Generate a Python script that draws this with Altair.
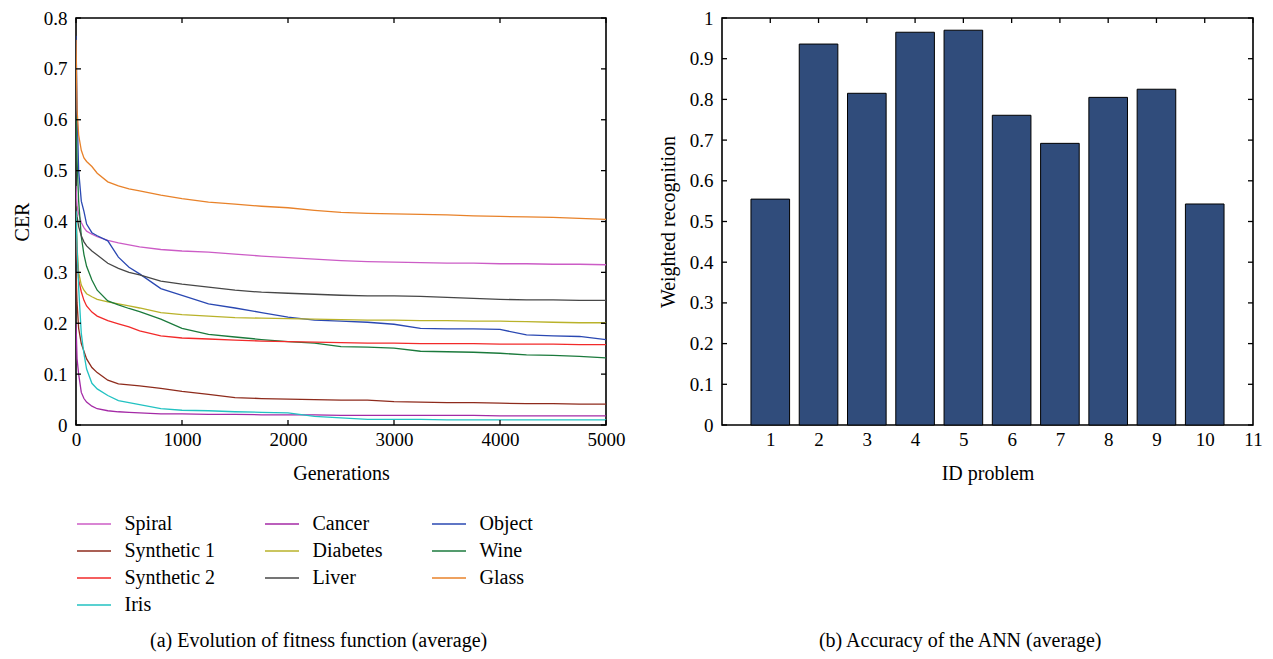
import altair as alt
import pandas as pd

FONT = "Liberation Serif"
FS_LAB = 19
FS_TXT = 20

# ---------------- data: left panel (CER vs generations) ----------------
gens = [0, 10, 25, 50, 75, 100, 150, 200, 300, 400, 500, 600, 800, 1000, 1250,
        1500, 1750, 2000, 2250, 2500, 2750, 3000, 3250, 3500, 3750, 4000, 4250,
        4500, 4750, 5000]

spiral = [0.47, 0.43, 0.415, 0.398, 0.388, 0.381, 0.375, 0.370, 0.363, 0.358, 0.354,
          0.350, 0.345, 0.342, 0.340, 0.336, 0.332, 0.329, 0.326, 0.323, 0.321, 0.320,
          0.319, 0.318, 0.318, 0.317, 0.317, 0.316, 0.316, 0.315]
cancer = [0.20, 0.13, 0.10, 0.064, 0.052, 0.045, 0.037, 0.032, 0.028, 0.026, 0.025,
          0.024, 0.022, 0.022, 0.021, 0.021, 0.020, 0.020, 0.020, 0.019, 0.019, 0.019,
          0.019, 0.019, 0.019, 0.018, 0.018, 0.018, 0.018, 0.018]
obj = [0.765, 0.62, 0.50, 0.44, 0.42, 0.395, 0.378, 0.372, 0.362, 0.33, 0.31,
       0.297, 0.268, 0.255, 0.238, 0.230, 0.221, 0.212, 0.206, 0.204, 0.202, 0.198,
       0.190, 0.189, 0.189, 0.188, 0.177, 0.175, 0.174, 0.168]
synthetic1 = [0.30, 0.24, 0.19, 0.16, 0.145, 0.13, 0.113, 0.103, 0.088, 0.081, 0.079,
              0.077, 0.072, 0.066, 0.060, 0.054, 0.052, 0.051, 0.050, 0.049, 0.049, 0.046,
              0.045, 0.044, 0.044, 0.043, 0.042, 0.042, 0.041, 0.041]
diabetes = [0.43, 0.35, 0.30, 0.275, 0.265, 0.258, 0.252, 0.247, 0.242, 0.238, 0.234,
            0.230, 0.221, 0.217, 0.214, 0.211, 0.210, 0.209, 0.208, 0.207, 0.206, 0.206,
            0.205, 0.205, 0.204, 0.204, 0.203, 0.202, 0.201, 0.201]
wine = [0.606, 0.52, 0.44, 0.37, 0.335, 0.312, 0.285, 0.265, 0.244, 0.236, 0.229,
        0.223, 0.208, 0.190, 0.178, 0.173, 0.168, 0.164, 0.161, 0.154, 0.153, 0.151,
        0.145, 0.144, 0.143, 0.141, 0.138, 0.137, 0.135, 0.132]
synthetic2 = [0.40, 0.33, 0.285, 0.262, 0.245, 0.234, 0.222, 0.214, 0.205, 0.199, 0.193,
              0.185, 0.175, 0.171, 0.169, 0.167, 0.165, 0.164, 0.163, 0.162, 0.161, 0.161,
              0.160, 0.160, 0.160, 0.159, 0.159, 0.159, 0.158, 0.158]
liver = [0.43, 0.41, 0.39, 0.372, 0.36, 0.352, 0.342, 0.334, 0.318, 0.308, 0.300,
         0.295, 0.283, 0.277, 0.271, 0.265, 0.261, 0.259, 0.257, 0.255, 0.254, 0.254,
         0.253, 0.251, 0.249, 0.247, 0.246, 0.246, 0.245, 0.245]
glass = [0.757, 0.62, 0.57, 0.54, 0.525, 0.518, 0.508, 0.495, 0.478, 0.470, 0.464,
         0.460, 0.452, 0.445, 0.438, 0.434, 0.430, 0.427, 0.422, 0.418, 0.416, 0.415,
         0.414, 0.413, 0.411, 0.410, 0.409, 0.408, 0.406, 0.404]
iris = [0.42, 0.35, 0.27, 0.18, 0.14, 0.11, 0.082, 0.071, 0.058, 0.048, 0.044,
        0.040, 0.032, 0.029, 0.028, 0.026, 0.025, 0.024, 0.017, 0.014, 0.011, 0.011,
        0.011, 0.010, 0.010, 0.010, 0.010, 0.010, 0.010, 0.010]

# legend order, row by row in a 3-column legend
names = ["Spiral", "Cancer", "Object",
         "Synthetic 1", "Diabetes", "Wine",
         "Synthetic 2", "Liver", "Glass",
         "Iris"]
colors = ["#cc5cc6", "#a42aa6", "#2a48b2",
          "#8e2b1c", "#b9b22a", "#1b7a3c",
          "#f22a2a", "#474747", "#e8822a",
          "#22c2c2"]
series_values = [spiral, cancer, obj, synthetic1, diabetes, wine,
                 synthetic2, liver, glass, iris]

rows = []
for name, vals in zip(names, series_values):
    for g, v in zip(gens, vals):
        rows.append({"Generations": g, "CER": v, "Series": name})
df = pd.DataFrame(rows)

x_ticks_a = [0, 1000, 2000, 3000, 4000, 5000]
y_ticks_a = [0, 0.1, 0.2, 0.3, 0.4, 0.5, 0.6, 0.7, 0.8]

# ---------------- data: right panel (accuracy) ----------------
problem_ids = [1, 2, 3, 4, 5, 6, 7, 8, 9, 10]
accuracy = [0.555, 0.936, 0.815, 0.965, 0.970, 0.761, 0.692, 0.805, 0.825, 0.543]
bar_df = pd.DataFrame({"id": problem_ids, "acc": accuracy})
x_ticks_b = [1, 2, 3, 4, 5, 6, 7, 8, 9, 10, 11]
y_ticks_b = [0, 0.1, 0.2, 0.3, 0.4, 0.5, 0.6, 0.7, 0.8, 0.9, 1.0]

LABEL_EXPR = "format(datum.value, '.1~f')"
TICK = 5
tick_style = dict(color="black", strokeWidth=1.3)

# ---------------- left panel ----------------
WA, HA = 530, 407
xs_a = alt.Scale(domain=[0, 5000], nice=False)
ys_a = alt.Scale(domain=[0, 0.8], nice=False)
x_enc_a = alt.X("Generations:Q", scale=xs_a,
                axis=alt.Axis(values=x_ticks_a, format="d", title="Generations"))
y_enc_a = alt.Y("CER:Q", scale=ys_a,
                axis=alt.Axis(values=y_ticks_a, labelExpr=LABEL_EXPR, title="CER"))

lines = alt.Chart(df).mark_line(strokeWidth=1.3, clip=True).encode(
    x=x_enc_a,
    y=y_enc_a,
    color=alt.Color("Series:N", sort=names,
                    scale=alt.Scale(domain=names, range=colors),
                    legend=alt.Legend(title=None, orient="none", legendX=8, legendY=496,
                                      direction="horizontal",
                                      columns=3, symbolType="M-2,0L2,0", symbolSize=289,
                                      symbolStrokeWidth=1.6, labelFont=FONT,
                                      labelFontSize=FS_TXT, labelColor="black",
                                      labelOffset=20.5, rowPadding=7, columnPadding=45)),
)

ya_df = pd.DataFrame({"CER": y_ticks_a})
xa_df = pd.DataFrame({"Generations": x_ticks_a})
ta_left = alt.Chart(ya_df).mark_rule(**tick_style).encode(
    y=y_enc_a, x=alt.value(0), x2=alt.value(TICK))
ta_right = alt.Chart(ya_df).mark_rule(**tick_style).encode(
    y=y_enc_a, x=alt.value(WA - TICK), x2=alt.value(WA))
ta_top = alt.Chart(xa_df).mark_rule(**tick_style).encode(
    x=x_enc_a, y=alt.value(0), y2=alt.value(TICK))
ta_bot = alt.Chart(xa_df).mark_rule(**tick_style).encode(
    x=x_enc_a, y=alt.value(HA - TICK), y2=alt.value(HA))

left = alt.layer(lines, ta_left, ta_right, ta_top, ta_bot).properties(
    width=WA, height=HA,
    title=alt.TitleParams("(a)  Evolution of fitness function (average)", orient="bottom",
                          anchor="middle", frame="bounds", font=FONT, fontSize=FS_TXT,
                          fontWeight="normal", color="black", offset=148),
)

# ---------------- right panel ----------------
WB, HB = 531, 407
xs_b = alt.Scale(domain=[0, 11], nice=False)
ys_b = alt.Scale(domain=[0, 1], nice=False)
x_enc_b = alt.X("x0:Q", scale=xs_b,
                axis=alt.Axis(values=x_ticks_b, format="d", title="ID problem"))
y_enc_b = alt.Y("acc:Q", scale=ys_b,
                axis=alt.Axis(values=y_ticks_b, labelExpr=LABEL_EXPR,
                              title="Weighted recognition"))

bars = alt.Chart(bar_df).transform_calculate(
    x0="datum.id - 0.4", x1="datum.id + 0.4"
).mark_bar(color="#304c7b", stroke="black", strokeWidth=1).encode(
    x=x_enc_b,
    x2="x1:Q",
    y=y_enc_b,
    y2=alt.datum(0),
)

yb_df = pd.DataFrame({"acc": y_ticks_b})
xb_df = pd.DataFrame({"x0": x_ticks_b})
tb_left = alt.Chart(yb_df).mark_rule(**tick_style).encode(
    y=y_enc_b, x=alt.value(0), x2=alt.value(TICK))
tb_right = alt.Chart(yb_df).mark_rule(**tick_style).encode(
    y=y_enc_b, x=alt.value(WB - TICK), x2=alt.value(WB))
tb_top = alt.Chart(xb_df).mark_rule(**tick_style).encode(
    x=x_enc_b, y=alt.value(0), y2=alt.value(TICK))

right = alt.layer(bars, tb_left, tb_right, tb_top).properties(
    width=WB, height=HB,
    title=alt.TitleParams("(b)  Accuracy of the ANN (average)", orient="bottom",
                          anchor="middle", frame="bounds", font=FONT, fontSize=FS_TXT,
                          fontWeight="normal", color="black", offset=148),
)

chart = alt.hconcat(left, right, spacing=31).properties(
    padding={"left": 3, "top": 0, "right": 0, "bottom": 0}
).configure_view(
    stroke="black", strokeWidth=1.6
).configure_axis(
    domain=False, ticks=False, grid=False, labelFlush=False,
    labelFont=FONT, labelFontSize=FS_LAB, labelColor="black",
    titleFont=FONT, titleFontSize=FS_TXT, titleFontWeight="normal", titleColor="black",
).configure_axisX(
    labelPadding=5, titlePadding=14
).configure_axisY(
    labelPadding=9, titlePadding=11
).configure_concat(spacing=31)

chart.save("out.html", embed_options={"renderer": "svg", "actions": False})
